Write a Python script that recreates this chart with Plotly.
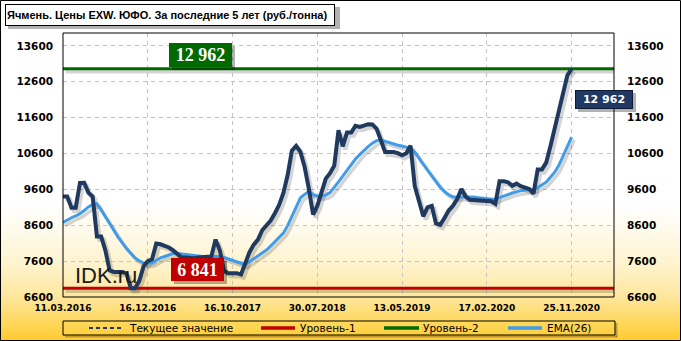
import plotly.graph_objects as go

# ---------------- data ----------------
title_text = "Ячмень. Цены EXW. ЮФО. За последние 5 лет (руб./тонна)"

price = [
    9400, 9400, 9090, 9090, 9780, 9785, 9505, 9400, 8290, 8290,
    7900, 7340, 7300, 7300, 7300, 7250, 6845, 6845, 7050, 7450,
    7600, 7650, 8090, 8070, 8030, 7980, 7900, 7800, 7700, 7700,
    7690, 7680, 7700, 7700, 7720, 7730, 8200, 7900, 7330, 7265,
    7270, 7265, 7225, 7550, 7850, 8060, 8200, 8460, 8610, 8730,
    8935, 9170, 9500, 10000, 10680, 10810, 10650, 10230, 9620, 8900,
    9140, 9540, 9900, 10050, 10260, 11250, 10800, 11185, 11185, 11370,
    11340, 11380, 11418, 11410, 11290, 10970, 10640, 10640, 10640, 10610,
    10550, 10610, 10820, 9690, 9250, 8850, 9100, 9140, 8650, 8610,
    8800, 9010, 9140, 9330, 9610, 9400, 9310, 9300, 9280, 9270,
    9270, 9270, 9197, 9830, 9830, 9800, 9700, 9760, 9690, 9650,
    9610, 9480, 10157, 10157, 10345, 10800, 11300, 11800, 12330, 12780, 12962,
]

ema = [
    8680, 8750, 8810, 8860, 8920, 9010, 9110, 9180, 9200, 9030,
    8850, 8650, 8460, 8270, 8100, 7950, 7820, 7690, 7610, 7545,
    7540, 7545, 7620, 7690, 7730, 7770, 7810, 7815, 7800, 7780,
    7760, 7740, 7730, 7730, 7730, 7730, 7730, 7730, 7700, 7660,
    7615, 7570, 7530, 7500, 7580, 7660, 7730, 7820, 7910, 8020,
    8140, 8260, 8380, 8590, 8850, 9150, 9360, 9460, 9545, 9460,
    9410, 9410, 9440, 9510, 9650, 9810, 9970, 10130, 10290, 10445,
    10570, 10690, 10790, 10890, 10960, 10975, 10940, 10890, 10850, 10830,
    10810, 10780, 10745, 10640, 10460, 10300, 10140, 9975, 9820, 9660,
    9540, 9450, 9390, 9393, 9393, 9393, 9393, 9385, 9370, 9360,
    9345, 9330, 9317, 9370, 9420, 9470, 9500, 9530, 9565, 9575,
    9585, 9597, 9650, 9720, 9800, 9940, 10080, 10270, 10540, 10800, 11060,
]

level1 = 6841
level2 = 12962
current_value = 12962

x_tick_labels = ["11.03.2016", "16.12.2016", "16.10.2017", "30.07.2018",
                 "13.05.2019", "17.02.2020", "25.11.2020"]
x_tick_step = 20
y_ticks = [6600, 7600, 8600, 9600, 10600, 11600, 12600, 13600]

legend_names = ["Текущее значение", "Уровень-1", "Уровень-2", "EMA(26)"]

# ---------------- geometry / style ----------------
W, H = 681, 341
ML, MR, MT, MB = 63, 67, 33, 44
PW, PH = W - ML - MR, H - MT - MB
X_MAX = 130
Y_MIN, Y_MAX = 6600, 13960

C_PRICE = "#1F3A5E"
C_EMA = "#409CEB"
C_RED = "#C00000"
C_GREEN = "#006A00"
C_NAVY = "#1F3864"
SHADOW = "rgba(0,0,0,0.17)"
BOX_SHADOW = "rgba(0,0,0,0.3)"


def px(xp):
    return (xp - ML) / PW


def py(yp):
    return (H - MB - yp) / PH


def fmt(v):
    return f"{v:,}".replace(",", " ")


xs = list(range(len(price)))
tickvals = [i * x_tick_step for i in range(len(x_tick_labels))]

# shadow offsets (in data units), used by the hidden shadow axes
dx = 2.5 * X_MAX / PW
dy = 3.0 * (Y_MAX - Y_MIN) / PH

fig = go.Figure()

# --- shadows (main hidden axes x / y, shifted ranges) ---
for yy in ([level1, level1], [level2, level2]):
    fig.add_trace(go.Scatter(x=[0, X_MAX], y=yy, xaxis="x", yaxis="y", mode="lines",
                             line=dict(color=SHADOW, width=3.5), hoverinfo="skip", showlegend=False))
fig.add_trace(go.Scatter(x=xs, y=ema, xaxis="x", yaxis="y", mode="lines",
                         line=dict(color=SHADOW, width=3.5), hoverinfo="skip", showlegend=False))
fig.add_trace(go.Scatter(x=xs, y=price, xaxis="x", yaxis="y", mode="lines",
                         line=dict(color=SHADOW, width=4.5), hoverinfo="skip", showlegend=False))

# --- visible series ---
fig.add_trace(go.Scatter(x=[0, X_MAX], y=[level1, level1], xaxis="x2", yaxis="y2", mode="lines",
                         name=legend_names[1], line=dict(color=C_RED, width=3), showlegend=False))
fig.add_trace(go.Scatter(x=[0, X_MAX], y=[level2, level2], xaxis="x2", yaxis="y2", mode="lines",
                         name=legend_names[2], line=dict(color=C_GREEN, width=3), showlegend=False))
fig.add_trace(go.Scatter(x=xs, y=ema, xaxis="x2", yaxis="y2", mode="lines",
                         name=legend_names[3], line=dict(color=C_EMA, width=3), showlegend=False))
fig.add_trace(go.Scatter(x=xs, y=price, xaxis="x2", yaxis="y2", mode="lines",
                         name="Цена", line=dict(color=C_PRICE, width=4), showlegend=False))
# dummy trace to activate right axis
fig.add_trace(go.Scatter(x=[0], y=[Y_MIN], xaxis="x2", yaxis="y3", mode="markers",
                         marker=dict(size=0.1, color="rgba(0,0,0,0)"), hoverinfo="skip", showlegend=False))

shapes = []
# background gradient (white -> gold)
stops = [(205, (255, 255, 255)), (262, (255, 244, 208)), (297, (255, 230, 155)),
         (325, (255, 214, 85)), (341, (255, 202, 45))]


def grad(yp):
    for (y0, c0), (y1, c1) in zip(stops[:-1], stops[1:]):
        if y0 <= yp <= y1:
            t = (yp - y0) / (y1 - y0)
            return "rgb(%d,%d,%d)" % tuple(round(a + (b - a) * t) for a, b in zip(c0, c1))
    return "rgb(255,255,255)"


yp = 205
while yp < H:
    shapes.append(dict(type="rect", xref="paper", yref="paper", layer="below",
                       x0=px(0), x1=px(W), y0=py(yp + 2.2), y1=py(yp),
                       fillcolor=grad(yp + 1), line=dict(width=0)))
    yp += 2

# plot frame
shapes.append(dict(type="rect", xref="paper", yref="paper", x0=0, x1=1, y0=0, y1=1,
                   line=dict(color="black", width=1), layer="above"))
# outer frame
shapes.append(dict(type="rect", xref="paper", yref="paper", x0=px(0.5), x1=px(W - 0.5),
                   y0=py(H - 0.5), y1=py(0.5), line=dict(color="black", width=1), layer="above"))

# manual legend
LG_Y = 328
shapes.append(dict(type="line", xref="paper", yref="paper", x0=px(65), x1=px(617), y0=py(336.5), y1=py(336.5),
                   line=dict(color="rgba(0,0,0,0.25)", width=2)))
shapes.append(dict(type="line", xref="paper", yref="paper", x0=px(616.5), x1=px(616.5), y0=py(323), y1=py(337),
                   line=dict(color="rgba(0,0,0,0.25)", width=2)))
shapes.append(dict(type="rect", xref="paper", yref="paper", x0=px(63), x1=px(615), y0=py(335), y1=py(321),
                   line=dict(color="black", width=1)))
legend_items = [
    (89, 122, C_PRICE, "4px,3px", 2, 127),
    (261, 295, C_RED, "solid", 3.5, 298),
    (384, 419, C_GREEN, "solid", 3.5, 421),
    (508, 542, C_EMA, "solid", 3.5, 545),
]
annotations = []
for (x0, x1, col, dash, wd, tx), name in zip(legend_items, legend_names):
    shapes.append(dict(type="line", xref="paper", yref="paper", x0=px(x0), x1=px(x1),
                       y0=py(LG_Y), y1=py(LG_Y), line=dict(color=col, width=wd, dash=dash)))
    annotations.append(dict(xref="paper", yref="paper", x=px(tx), y=py(LG_Y), xanchor="left",
                            yanchor="middle", text=name, showarrow=False,
                            font=dict(family="DejaVu Sans", size=10.5, color="black")))


def box_shadow(x0, y0, x1, y1, off=3):
    shapes.append(dict(type="rect", xref="paper", yref="paper", layer="above",
                       x0=px(x0 + off), x1=px(x1 + off), y0=py(y1 + off), y1=py(y0 + off),
                       fillcolor=BOX_SHADOW, line=dict(width=0)))


# title box
box_shadow(5, 4, 337, 26)
annotations.append(dict(xref="paper", yref="paper", x=px(5), y=py(4), xanchor="left", yanchor="top",
                        text=title_text, showarrow=False, align="left", width=326, height=18,
                        font=dict(family="Liberation Sans", size=11, color="black", weight=700),
                        bgcolor="white", bordercolor="black", borderwidth=1, borderpad=1))


def value_box(x0, y0, x1, y1, text, bg, fam, size, border=None):
    box_shadow(x0, y0, x1, y1)
    annotations.append(dict(xref="paper", yref="paper", x=px((x0 + x1) / 2), y=py((y0 + y1) / 2),
                            xanchor="center", yanchor="middle", text=text, showarrow=False,
                            width=x1 - x0 - 2, height=y1 - y0 - 2, borderpad=0, borderwidth=1,
                            bgcolor=bg, bordercolor=border or bg,
                            font=dict(family=fam, size=size, color="white", weight=700)))


value_box(169, 43, 232, 67, fmt(level2), C_GREEN, "Liberation Serif", 18)
value_box(171, 258, 224, 281, fmt(level1), C_RED, "Liberation Serif", 18)
value_box(575, 90, 633, 109, fmt(current_value), C_NAVY, "DejaVu Sans", 11, border="#0E1B33")

annotations.append(dict(xref="paper", yref="paper", x=px(73), y=py(275.5), xanchor="left", yanchor="middle",
                        text="IDK.ru", showarrow=False,
                        font=dict(family="Liberation Sans", size=22, color="#1A1A1A")))

grid = dict(showgrid=True, gridcolor="#C4C4C4", griddash="4px,4px", gridwidth=1)
ytickfont = dict(family="DejaVu Sans", size=10.5, color="black", weight=700)

fig.update_layout(
    width=W, height=H, autosize=False,
    margin=dict(l=ML, r=MR, t=MT, b=MB, pad=0),
    paper_bgcolor="white", plot_bgcolor="rgba(0,0,0,0)",
    showlegend=False,
    xaxis=dict(range=[-dx, X_MAX - dx], visible=False, fixedrange=True),
    yaxis=dict(range=[Y_MIN + dy, Y_MAX + dy], visible=False, fixedrange=True),
    xaxis2=dict(overlaying="x", anchor="y2", range=[0, X_MAX], tickmode="array", tickvals=tickvals,
                ticktext=x_tick_labels, ticks="", zeroline=False, showline=False,
                tickfont=dict(family="DejaVu Sans", size=9, color="black", weight=700),
                ticklabelstandoff=4, **grid),
    yaxis2=dict(overlaying="y", anchor="x2", side="left", range=[Y_MIN, Y_MAX], tickmode="array",
                tickvals=y_ticks, ticktext=[str(v) for v in y_ticks], ticks="", zeroline=False,
                showline=False, tickfont=ytickfont, ticklabelstandoff=9, **grid),
    yaxis3=dict(overlaying="y", anchor="x2", side="right", range=[Y_MIN, Y_MAX], tickmode="array",
                tickvals=y_ticks, ticktext=[str(v) for v in y_ticks], ticks="", zeroline=False,
                showline=False, showgrid=False, tickfont=ytickfont, ticklabelstandoff=12),
    shapes=shapes,
    annotations=annotations,
)

fig.write_html("out.html", config={"displayModeBar": False})
